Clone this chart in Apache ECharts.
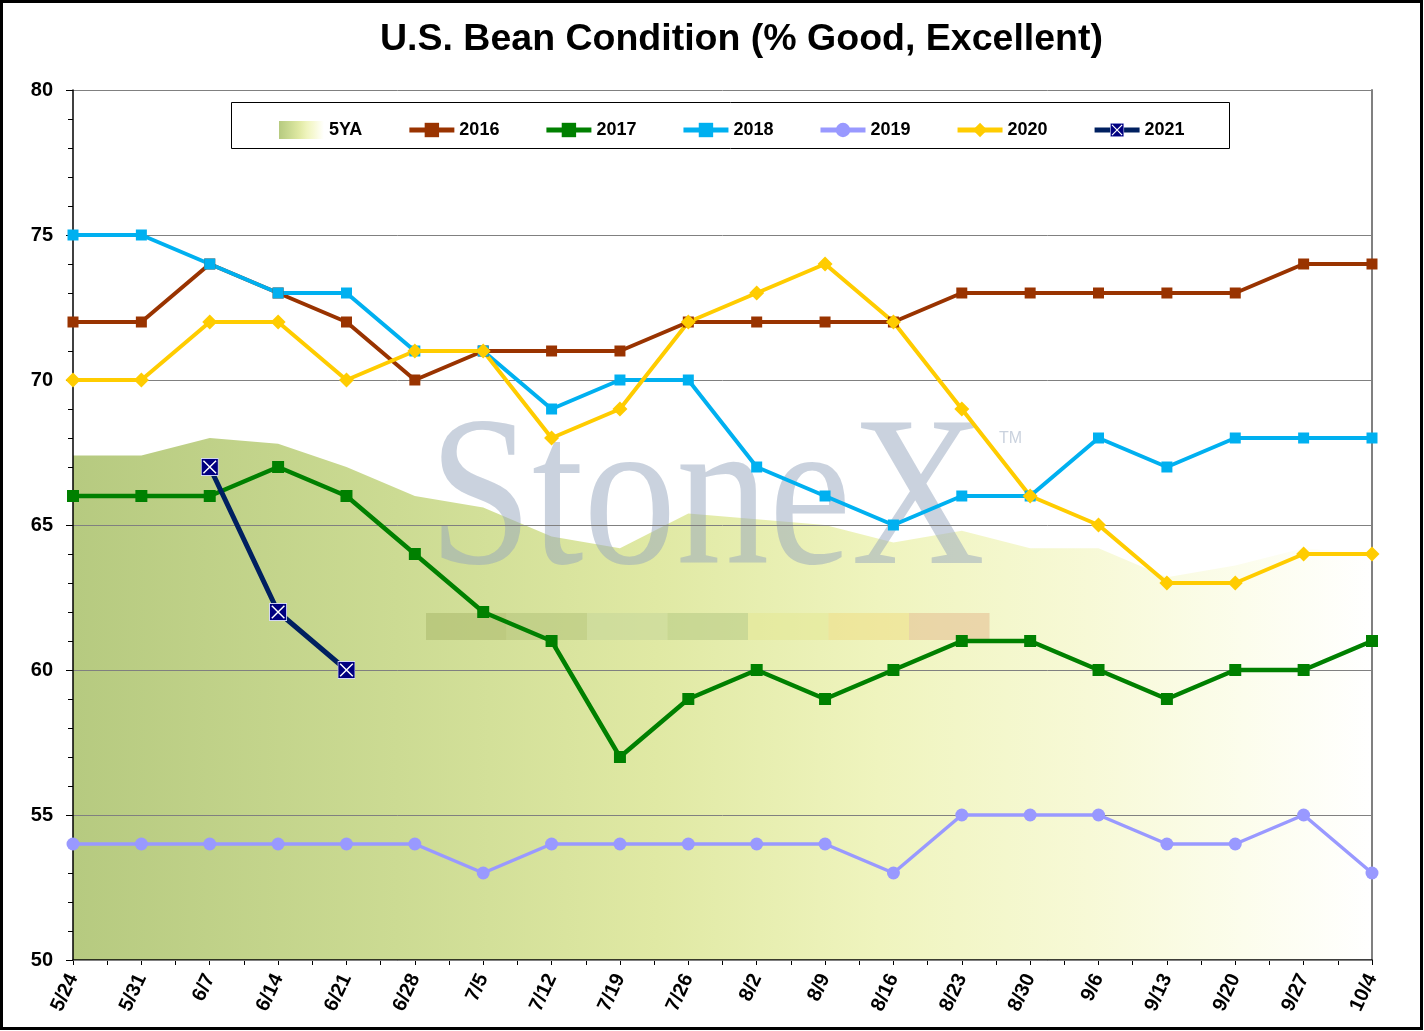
<!DOCTYPE html>
<html>
<head>
<meta charset="utf-8">
<script src="https://cdn.jsdelivr.net/npm/echarts@6/dist/echarts.min.js"></script>
<style>
  html, body { margin: 0; padding: 0; background: #fff; }
  #chart { width: 1424px; height: 1031px; }
</style>
</head>
<body>
<div id="chart"></div>
<script>
// weeks on the x axis
const weeks = ['5/24', '5/31', '6/7', '6/14', '6/21', '6/28', '7/5', '7/12', '7/19', '7/26',
               '8/2', '8/9', '8/16', '8/23', '8/30', '9/6', '9/13', '9/20', '9/27', '10/4']
// condition, % good/excellent
const avg5Y = [67.4, 67.4, 68.0, 67.8, 67.0, 66.0, 65.6, 64.6, 64.2, 65.4,
               65.2, 65.0, 64.4, 64.8, 64.2, 64.2, 63.2, 63.6, 64.2, 64.0]
const y2016 = [72, 72, 74, 73, 72, 70, 71, 71, 71, 72, 72, 72, 72, 73, 73, 73, 73, 73, 74, 74]
const y2017 = [66, 66, 66, 67, 66, 64, 62, 61, 57, 59, 60, 59, 60, 61, 61, 60, 59, 60, 60, 61]
const y2018 = [75, 75, 74, 73, 73, 71, 71, 69, 70, 70, 67, 66, 65, 66, 66, 68, 67, 68, 68, 68]
const y2019 = [54, 54, 54, 54, 54, 54, 53, 54, 54, 54, 54, 54, 53, 55, 55, 55, 54, 54, 55, 53]
const y2020 = [70, 70, 72, 72, 70, 71, 71, 68, 69, 72, 73, 74, 72, 69, 66, 65, 63, 63, 64, 64]
const y2021 = [null, null, 67, 62, 60]
const yTicks = { min: 50, max: 80, step: 5 }

// half-week slots, only used to draw the small ticks between the weeks
const halfSlots = []
weeks.forEach((w, i) => {
    halfSlots.push(w)
    if (i < weeks.length - 1) halfSlots.push('')
})

const areaGradient = new echarts.graphic.LinearGradient(0, 0, 1, 0, [
    { offset: 0, color: '#b6ca80' },
    { offset: 0.25, color: '#ccdb93' },
    { offset: 0.45, color: '#e0e9a4' },
    { offset: 0.62, color: '#eff4be' },
    { offset: 0.78, color: '#f7f9d6' },
    { offset: 0.9, color: '#fcfdec' },
    { offset: 1, color: '#ffffff' }
])

const xSvg = '<svg xmlns="http://www.w3.org/2000/svg" width="20" height="20">' +
    '<rect x="0.5" y="0.5" width="19" height="19" fill="#000080" stroke="#dfe3ff" stroke-width="1"/>' +
    '<path d="M3 3L17 17M17 3L3 17" stroke="#ffffff" stroke-width="1.6"/></svg>'
const xSymbol = 'image://data:image/svg+xml;charset=utf-8,' + encodeURIComponent(xSvg)

const font = 'Liberation Sans'
const wmColor = 'rgba(150,165,190,0.5)'
const stripColors = ['#a9b86c', '#b3c27a', '#c4d699', '#b4c884', '#e4e894', '#eedc84', '#e4bc90']

function lineSeries(name, data, color, symbol, size, width) {
    return {
        name: name,
        type: 'line',
        data: data,
        z: 3,
        symbol: symbol,
        symbolSize: size,
        showAllSymbol: true,
        lineStyle: { color: color, width: width },
        itemStyle: { color: color },
        emphasis: { disabled: true }
    }
}

const graphics = [
    {
        type: 'rect', z: 10, silent: true,
        shape: { x: 1.5, y: 1.5, width: 1420, height: 1027 },
        style: { fill: 'none', stroke: '#000', lineWidth: 3 }
    },
    {
        type: 'rect', z: 1, silent: true,
        shape: { x: 231.5, y: 102.5, width: 998, height: 46 },
        style: { fill: '#fff', stroke: '#000', lineWidth: 1 }
    },
    {
        type: 'text', z: 1, silent: true,
        x: 429, y: 507, scaleX: 0.862,
        style: { text: 'StoneX', fill: wmColor, font: '215px "Liberation Serif"', verticalAlign: 'middle' }
    },
    {
        type: 'text', z: 1, silent: true,
        x: 999, y: 439,
        style: { text: 'TM', fill: wmColor, font: '16px "Liberation Sans"', verticalAlign: 'middle' }
    }
]
stripColors.forEach((c, i) => {
    graphics.push({
        type: 'rect', z: 1, silent: true,
        shape: { x: 426 + i * 80.5, y: 613, width: 80.5, height: 27 },
        style: { fill: c, opacity: 0.55 }
    })
})

const chart = echarts.init(document.getElementById('chart'))
const option = {
    animation: false,
    backgroundColor: '#fff',
    textStyle: { fontFamily: font },
    title: {
        text: 'U.S. Bean Condition (% Good, Excellent)',
        left: 375,
        top: 16,
        textStyle: { fontFamily: font, fontSize: 37.5, fontWeight: 'bold', color: '#000' }
    },
    legend: {
        left: 274,
        top: 116,
        itemGap: 44.5,
        itemWidth: 45,
        itemHeight: 18,
        z: 5,
        lineStyle: { width: 5 },
        textStyle: { fontFamily: font, fontSize: 18, fontWeight: 'bold', color: '#000' },
        data: [
            { name: '5YA', icon: 'rect', itemStyle: { color: areaGradient } },
            '2016', '2017', '2018', '2019', '2020', '2021'
        ]
    },
    graphic: graphics,
    grid: { left: 73, right: 52, top: 90, bottom: 71 },
    xAxis: [
        {
            type: 'category',
            data: weeks,
            boundaryGap: false,
            axisLine: { lineStyle: { color: '#000', width: 1.5 } },
            axisTick: { show: false },
            axisLabel: {
                interval: 0, rotate: 65, margin: 15,
                fontFamily: font, fontSize: 20, fontWeight: 'bold', color: '#000'
            },
            splitLine: { show: false }
        },
        {
            type: 'category',
            data: halfSlots,
            boundaryGap: false,
            position: 'bottom',
            axisLine: { show: false },
            axisTick: { show: true, interval: 0, length: 5, lineStyle: { color: '#000' } },
            axisLabel: { show: false },
            splitLine: { show: false }
        }
    ],
    yAxis: [
        {
            type: 'value',
            min: yTicks.min,
            max: yTicks.max,
            interval: yTicks.step,
            z: 1,
            axisLine: { show: true, lineStyle: { color: '#000', width: 1.5 } },
            axisTick: { show: true, length: 7, lineStyle: { color: '#000' } },
            minorTick: { show: true, splitNumber: 5, length: 5, lineStyle: { color: '#000' } },
            axisLabel: { margin: 20, fontFamily: font, fontSize: 20, fontWeight: 'bold', color: '#000' },
            splitLine: { show: true, lineStyle: { color: '#808080', width: 1 } }
        },
        {
            type: 'value',
            position: 'right',
            min: yTicks.min,
            max: yTicks.max,
            interval: yTicks.step,
            axisLine: { show: true, lineStyle: { color: '#808080', width: 2 } },
            axisTick: { show: false },
            axisLabel: { show: false },
            splitLine: { show: false }
        }
    ],
    series: [
        {
            name: '5YA',
            type: 'line',
            data: avg5Y,
            z: 0,
            symbol: 'none',
            lineStyle: { width: 0 },
            itemStyle: { color: areaGradient },
            areaStyle: { color: areaGradient, opacity: 1 },
            emphasis: { disabled: true }
        },
        lineSeries('2016', y2016, '#993300', 'rect', 11, 4),
        lineSeries('2017', y2017, '#008000', 'rect', 12, 4.5),
        lineSeries('2018', y2018, '#00b0f0', 'rect', 11, 4),
        lineSeries('2019', y2019, '#9999ff', 'circle', 13, 3.5),
        lineSeries('2020', y2020, '#ffcc00', 'diamond', 15, 4),
        lineSeries('2021', y2021, '#002060', xSymbol, 18, 5)
    ]
}
chart.setOption(option)
</script>
</body>
</html>
